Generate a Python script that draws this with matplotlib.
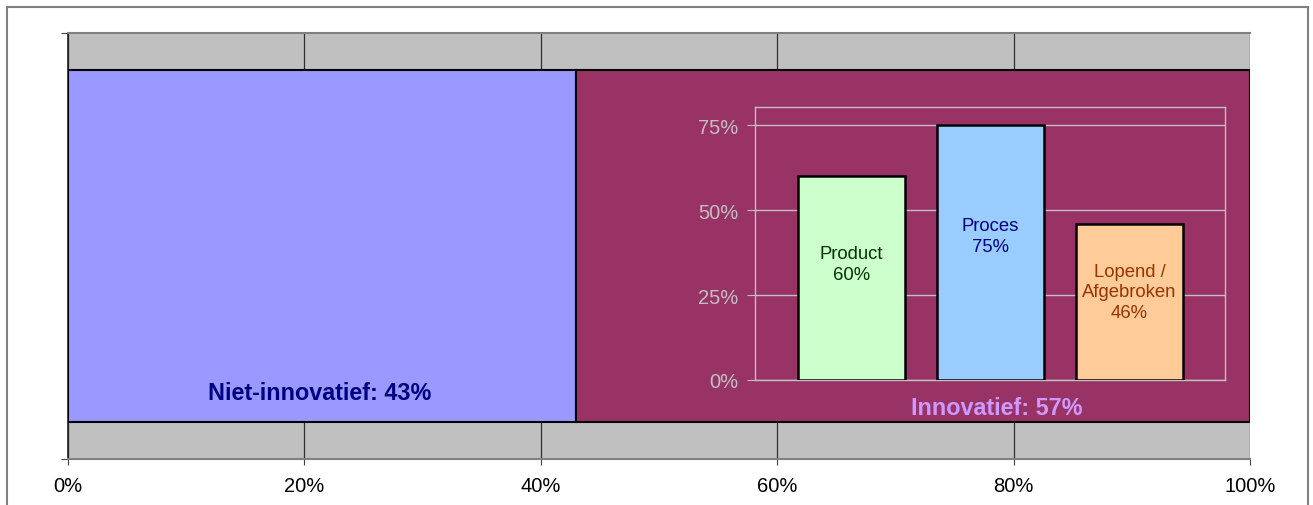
import matplotlib.pyplot as plt
from matplotlib.patches import Rectangle
from matplotlib.ticker import PercentFormatter

plt.rcParams['font.family'] = ['Liberation Sans', 'DejaVu Sans']

# hoofdverdeling
shares = [0.43, 0.57]
share_colors = ['#9999FF', '#993366']
share_labels = ['Niet-innovatief: 43%', 'Innovatief: 57%']
share_label_colors = ['#000080', '#CC99FF']

# soorten innovatie (binnen innovatief)
kinds = ['Product', 'Proces', 'Lopend /\nAfgebroken']
kind_values = [60, 75, 46]
kind_colors = ['#CCFFCC', '#99CCFF', '#FFCC99']
kind_text_colors = ['#003300', '#000080', '#993300']

x_ticks = [0, 0.2, 0.4, 0.6, 0.8, 1.0]
inset_ticks = [0, 25, 50, 75]

fig = plt.figure(figsize=(13.13, 5.06), dpi=100)

# rand om de hele grafiek
fig.patches.append(Rectangle((7 / 1313, -0.1), 1301 / 1313, 1.1 - 8 / 506,
                             transform=fig.transFigure, fill=False,
                             edgecolor='#808080', linewidth=1.5))

ax = fig.add_axes([0.05179, 0.09091, 0.90023, 0.8419])
ax.set_facecolor('#C0C0C0')
ax.set_xlim(0, 1)
ax.set_ylim(-0.5, 0.5)

left = 0
for s, c in zip(shares, share_colors):
    ax.barh(0, s, left=left, height=0.8286, color=c, edgecolor='black',
            linewidth=1.5, zorder=3)
    left += s

ax.set_xticks(x_ticks)
ax.xaxis.set_major_formatter(PercentFormatter(1.0, decimals=0))
ax.set_yticks([-0.5, 0.5])
ax.set_yticklabels([])
ax.tick_params(axis='x', direction='out', length=4, color='#404040',
               labelsize=14.5, pad=8)
ax.tick_params(axis='y', direction='out', length=5, color='#404040')
ax.grid(axis='x', color='#303030', linewidth=0.9, zorder=1)
ax.set_axisbelow(True)
for side in ['top', 'bottom']:
    ax.spines[side].set_color('#808080')
    ax.spines[side].set_linewidth(1.5)
ax.spines['left'].set_color('#202020')
ax.spines['left'].set_linewidth(1.2)
ax.spines['right'].set_visible(False)

ax.text(0.2132, -0.343, share_labels[0], color=share_label_colors[0],
        fontsize=16.8, fontweight='bold', ha='center', va='center', zorder=5)
ax.text(0.786, -0.378, share_labels[1], color=share_label_colors[1],
        fontsize=16.8, fontweight='bold', ha='center', va='center', zorder=5)

# inzet: soorten innovatie
ins = fig.add_axes([0.57502, 0.24704, 0.35796, 0.53952])
ins.patch.set_alpha(0)
ins.set_xlim(-0.694, 2.687)
ins.set_ylim(0, 80.3)
xpos = list(range(len(kinds)))
ins.bar(xpos, kind_values, width=0.77, color=kind_colors, edgecolor='black',
        linewidth=1.8, zorder=3)
ins.set_yticks(inset_ticks)
ins.yaxis.set_major_formatter(PercentFormatter(100, decimals=0))
ins.set_xticks([])
ins.tick_params(axis='y', direction='out', length=6, color='#C0C0C0',
                labelcolor='#C0C0C0', labelsize=14.5, pad=6)
ins.grid(axis='y', color='#C0C0C0', linewidth=1.0, zorder=1)
for sp in ins.spines.values():
    sp.set_color('#C0C0C0')
    sp.set_linewidth(1.0)

label_y = [34.1, 42.4, 25.9]
for x, k, v, tc, ly in zip(xpos, kinds, kind_values, kind_text_colors, label_y):
    ins.text(x, ly, f'{k}\n{v}%', color=tc, fontsize=13.3, ha='center',
             va='center', zorder=5, linespacing=1.28)

fig.savefig('out.png', dpi=100)
